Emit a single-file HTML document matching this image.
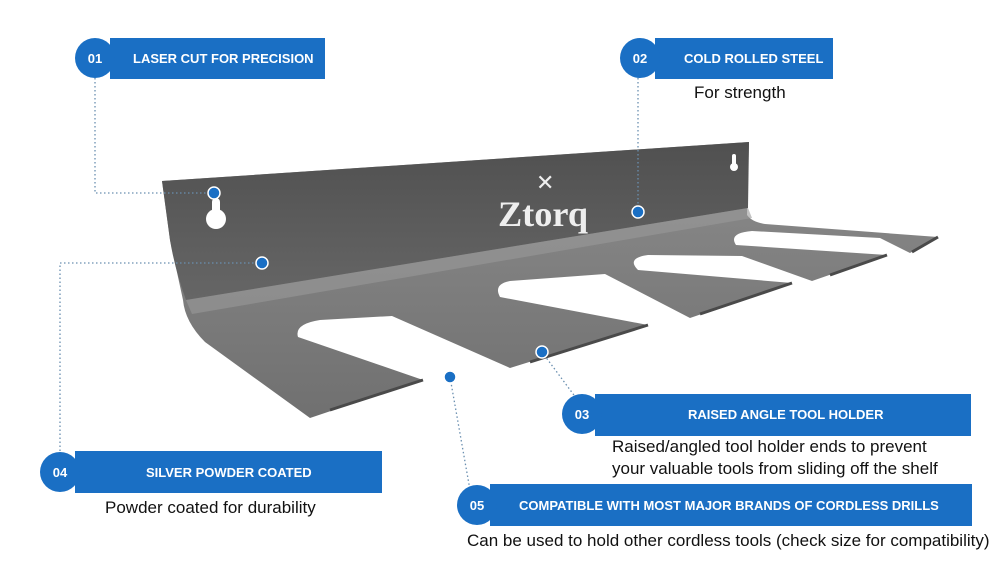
<!DOCTYPE html>
<html><head><style>
body{margin:0;width:1000px;height:563px;background:#fff;overflow:hidden;font-family:"Liberation Sans",sans-serif}
</style></head><body>
<svg width="1000" height="563" viewBox="0 0 1000 563" xmlns="http://www.w3.org/2000/svg">
<defs>
<linearGradient id="bk" x1="0" y1="0" x2="0" y2="1">
<stop offset="0" stop-color="#505050"/><stop offset="1" stop-color="#666"/></linearGradient>
<linearGradient id="fl" x1="0" y1="0" x2="0" y2="1">
<stop offset="0" stop-color="#8c8c8c"/><stop offset="1" stop-color="#707070"/></linearGradient>
</defs>
<path d="M162,181 L749,142 L747,215 Q752,222 765,224 L938,237 L910,253 L880,238 L752,231 Q728,233 736,245 L887,255 L812,281 L742,256 L648,255 Q626,258 638,270 L792,283 L690,318 L605,274 L510,281 Q493,284 500,297 L648,325 L510,368 L392,316 L320,320 Q294,324 298,337 L423,380 L310,418 L205,342 Q185,322 183,300 L170,240 Z" fill="url(#fl)"/>
<path d="M162,181 L749,142 L748,208 L186,300 Q175,270 170,240 Z" fill="url(#bk)"/>
<path d="M186,300 L748,208 L752,218 L192,314 Z" fill="#9a9a9a" opacity="0.6"/>
<g stroke="#4a4a4a" stroke-width="3" fill="none">
<path d="M330,410 L423,380"/><path d="M530,362 L648,325"/><path d="M700,314 L792,283"/><path d="M830,275 L887,255"/><path d="M912,252 L938,237"/>
</g>
<circle cx="216" cy="219" r="10" fill="#fff"/><rect x="212" y="198" width="8" height="20" rx="4" fill="#fff"/>
<circle cx="734" cy="167" r="4" fill="#fff"/><rect x="732" y="154" width="4" height="12" rx="2" fill="#fff"/>
<text x="498" y="226" font-family="Liberation Serif,serif" font-weight="bold" font-size="36" fill="#eee" textLength="90" lengthAdjust="spacingAndGlyphs">Ztorq</text>
<text x="536" y="190" font-size="22" fill="#eee">✕</text>
<g stroke="#6a8fb0" stroke-dasharray="1.5,2.5" fill="none" stroke-width="1.3">
<path d="M95,78 V193 H214"/><path d="M638,78 V212"/><path d="M60,475 V263 H262"/>
<path d="M542,352 L585,410"/><path d="M450,377 L470,490"/>
</g>
<g fill="#1a6fc4" stroke="#fff" stroke-width="1.5">
<circle cx="214" cy="193" r="6"/><circle cx="638" cy="212" r="6"/><circle cx="262" cy="263" r="6"/>
<circle cx="542" cy="352" r="6"/><circle cx="450" cy="377" r="6"/></g>
<g fill="#1a6fc4">
<rect x="110" y="38" width="215" height="41"/><circle cx="95" cy="58" r="20"/>
<rect x="655" y="38" width="178" height="41"/><circle cx="640" cy="58" r="20"/>
<rect x="595" y="394" width="376" height="42"/><circle cx="582" cy="414" r="20"/>
<rect x="75" y="451" width="307" height="42"/><circle cx="60" cy="472" r="20"/>
<rect x="490" y="484" width="482" height="42"/><circle cx="477" cy="505" r="20"/>
</g>
<g fill="#fff" font-weight="bold" font-size="13">
<text x="95" y="63" text-anchor="middle">01</text>
<text x="640" y="63" text-anchor="middle">02</text>
<text x="582" y="419" text-anchor="middle">03</text>
<text x="60" y="477" text-anchor="middle">04</text>
<text x="477" y="510" text-anchor="middle">05</text>
<text x="133" y="63">LASER CUT FOR PRECISION</text>
<text x="684" y="63">COLD ROLLED STEEL</text>
<text x="688" y="419">RAISED ANGLE TOOL HOLDER</text>
<text x="146" y="477">SILVER POWDER COATED</text>
<text x="519" y="510">COMPATIBLE WITH MOST MAJOR BRANDS OF CORDLESS DRILLS</text>
</g>
<g fill="#111" font-size="17">
<text x="694" y="98">For strength</text>
<text x="612" y="452">Raised/angled tool holder ends to prevent</text>
<text x="612" y="474">your valuable tools from sliding off the shelf</text>
<text x="105" y="513">Powder coated for durability</text>
<text x="467" y="546">Can be used to hold other cordless tools (check size for compatibility)</text>
</g>
</svg>
</body></html>
